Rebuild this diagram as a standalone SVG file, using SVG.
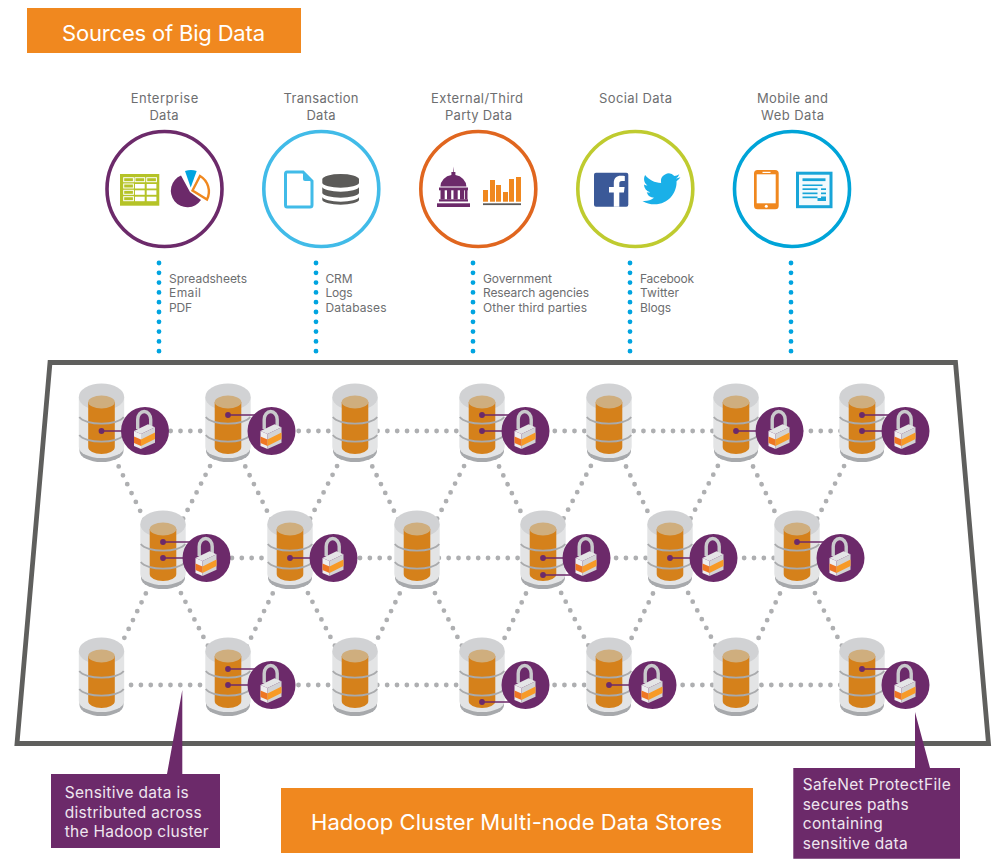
<svg xmlns="http://www.w3.org/2000/svg" width="998" height="859" viewBox="0 0 998 859">
<style>
text{font-family:"Inter","Open Sans","Liberation Sans",sans-serif}
.lbl{font-size:13px;fill:#6d6e70}
.lst{font-size:12px;fill:#6d6e70}
.ban{font-size:22px;fill:#fff}
.cal{font-size:15.5px;fill:#efe6ef}
.ring{fill:#fff;stroke-width:3.6}
.grey{fill:none;stroke:#aeafb1;stroke-width:4.8;stroke-linecap:round;stroke-dasharray:0 9.85}
.blue{fill:none;stroke:#00a4e0;stroke-width:4.8;stroke-linecap:round;stroke-dasharray:0 9.8}
.band{fill:none;stroke:#a9aaac;stroke-width:1.8}
.pur{fill:#6c2a6a}
.org{fill:#f0881f}
.wire{stroke:#6c2a6a;stroke-width:1.5}
</style>
<defs>
<g id="db">
<path d="M-22 10V20A22 11 0 0 0 22 20V10Z" fill="#a7a9ac"/>
<path d="M-22.7 -34V16A22.7 11 0 0 0 22.7 16V-34Z" fill="#e3e4e5"/>
<ellipse cx="0" cy="-34" rx="22.7" ry="13.5" fill="#d1d2d4"/>
<path d="M-13.3 -29V16A13.3 7 0 0 0 13.3 16V-29Z" fill="#d5811b"/>
<ellipse cx="0" cy="-29" rx="13.3" ry="6.4" fill="#cfae7e"/>
<path class="band" d="M-22.2 -14A23 9 0 0 0 22.2 -14"/>
<path class="band" d="M-22.2 4A23 9 0 0 0 22.2 4"/>
</g>
<g id="lock">
<circle cx="43.5" cy="0" r="24" class="pur"/>
<g transform="translate(43.5,0)">
<path d="M-7.3 -2V-11.5A6.5 8 0 0 1 5.7 -11.5V-4" fill="none" stroke="#c9cacc" stroke-width="3.4"/>
<path d="M-11 0L-4 3L10 -3.7L3 -6.7Z" fill="#e4e5e6"/>
<path d="M-11 0L-4 3V18L-11 15Z" fill="#eeeeef"/>
<path d="M-4 3L10 -3.7V11.7L-4 18Z" fill="#d2d3d5"/>
<path d="M-11 5.500L-4 8.500V15L-11 12Z" fill="#ee7623"/>
<path d="M-4 8.500L10 1.500V8L-4 15Z" fill="#f79a26"/>
</g>
</g>
<g id="pT"><line x1="0" y1="-16" x2="28" y2="-16" class="wire"/><circle cx="0" cy="-16" r="2.9" class="pur"/></g>
<g id="pM"><line x1="0" y1="0" x2="28" y2="0" class="wire"/><circle cx="0" cy="0" r="2.9" class="pur"/></g>
<g id="pL"><line x1="0" y1="17" x2="28" y2="17" class="wire"/><circle cx="0" cy="17" r="2.9" class="pur"/></g>
</defs>

<g id="banner-sources">
<rect x="27" y="8" width="274" height="45" class="org"/>
<text x="62" y="41" class="ban" textLength="203">Sources of Big Data</text>
</g>

<g id="connectors">
<path class="blue" d="M159 263V352"/>
<path class="blue" d="M316 263V352"/>
<path class="blue" d="M473 263V352"/>
<path class="blue" d="M630 263V352"/>
<path class="blue" d="M791 263V352"/>
<path class="grey" d="M101.7 431H862"/>
<path class="grey" d="M163 558H797"/>
<path class="grey" d="M101.5 685H862"/>
<path class="grey" d="M101.5 431L163 558"/>
<path class="grey" d="M228 431L163 558"/>
<path class="grey" d="M228 431L290 558"/>
<path class="grey" d="M355 431L290 558"/>
<path class="grey" d="M355 431L417 558"/>
<path class="grey" d="M482 431L417 558"/>
<path class="grey" d="M482 431L543 558"/>
<path class="grey" d="M609 431L543 558"/>
<path class="grey" d="M609 431L670 558"/>
<path class="grey" d="M736 431L670 558"/>
<path class="grey" d="M736 431L797 558"/>
<path class="grey" d="M862 431L797 558"/>
<path class="grey" d="M163 558L101.5 685"/>
<path class="grey" d="M163 558L228 685"/>
<path class="grey" d="M290 558L228 685"/>
<path class="grey" d="M290 558L355 685"/>
<path class="grey" d="M417 558L355 685"/>
<path class="grey" d="M417 558L482 685"/>
<path class="grey" d="M543 558L482 685"/>
<path class="grey" d="M543 558L609 685"/>
<path class="grey" d="M670 558L609 685"/>
<path class="grey" d="M670 558L736 685"/>
<path class="grey" d="M797 558L736 685"/>
<path class="grey" d="M797 558L862 685"/>
</g>

<g id="source-enterprise">
<text x="130.7" y="103" class="lbl" textLength="67.6">Enterprise</text>
<text x="149.5" y="120" class="lbl" textLength="29">Data</text>
<circle cx="164.5" cy="189" r="57.5" class="ring" stroke="#6c2a6a"/>
<rect x="120" y="174" width="39.3" height="31.7" fill="#b5c327"/>
<g fill="#fff">
<rect x="135" y="184" width="9.7" height="4.5"/><rect x="146.7" y="184" width="9.7" height="4.5"/>
<rect x="135" y="190.3" width="9.7" height="4.5"/><rect x="146.7" y="190.3" width="9.7" height="4.5"/>
<rect x="135" y="196.7" width="9.7" height="4.5"/><rect x="146.7" y="196.7" width="9.7" height="4.5"/>
</g>
<g fill="none" stroke="#fff" stroke-width="1">
<rect x="123.7" y="177.7" width="9.7" height="4"/><rect x="135" y="177.7" width="9.7" height="4"/><rect x="146.7" y="177.7" width="9.7" height="4"/>
<rect x="123.7" y="184" width="9.7" height="4"/><rect x="123.7" y="190.3" width="9.7" height="4"/><rect x="123.7" y="196.7" width="9.7" height="4"/>
</g>
<path d="M190 192L201 200A16.5 16.5 0 1 1 181 175.5Z" class="pur"/>
<path d="M185 171Q191 169 196.7 171L190.7 187.5Z" fill="#00a4e0"/>
<path d="M192.5 190.5L200 176A18 18 0 0 1 207 199.5Z" fill="#fff" stroke="#f0881f" stroke-width="2.4"/>
<text x="169" y="283" class="lst" textLength="78">Spreadsheets</text>
<text x="169" y="297.3" class="lst" textLength="32">Email</text>
<text x="169" y="312" class="lst" textLength="23">PDF</text>
</g>

<g id="source-transaction">
<text x="283.5" y="103" class="lbl" textLength="75">Transaction</text>
<text x="306.5" y="120" class="lbl" textLength="29">Data</text>
<circle cx="321.3" cy="189" r="57.5" class="ring" stroke="#41bbe8"/>
<path d="M287 172H303L312 181V205Q312 207 310 207H287Q285.500 207 285.500 205V174Q285.500 172 287 172Z" fill="#fff" stroke="#41bbe8" stroke-width="3"/>
<path d="M303 171L313 181H305Q303 181 303 179Z" fill="#41bbe8"/>
<g fill="#5c5b59">
<path d="M322.300 179A18.400 5.500 0 0 1 359 179V183A18.400 5 0 0 1 322.300 183Z"/>
<path d="M322.300 187A18.400 5 0 0 0 359 187V193A18.400 5 0 0 1 322.300 193Z"/>
<path d="M322.300 197A18.400 5 0 0 0 359 197V200A18.400 5 0 0 1 322.300 200Z"/>
</g>
<text x="325.500" y="283" class="lst" textLength="27">CRM</text>
<text x="325.500" y="297.300" class="lst" textLength="27">Logs</text>
<text x="325.500" y="312" class="lst" textLength="61">Databases</text>
</g>

<g id="source-external">
<text x="431" y="103" class="lbl" textLength="92">External/Third</text>
<text x="445" y="120" class="lbl" textLength="67">Party Data</text>
<circle cx="478.300" cy="189" r="57.500" class="ring" stroke="#e0661f"/>
<g class="pur">
<path d="M453.300 166.500l.4 4v1.500h1.700v3a13 12 0 0 1 11 11.500h-26a13 12 0 0 1 11-11.500v-3h1.700v-1.500z"/>
<rect x="439" y="187.500" width="29" height="2.800"/>
<rect x="440.500" y="190" width="4.200" height="9.500"/>
<rect x="447" y="190" width="4.200" height="9.500"/>
<rect x="453.500" y="190" width="4.200" height="9.500"/>
<rect x="460" y="190" width="4.200" height="9.500"/>
<rect x="465" y="190" width="2.500" height="9.500"/>
<rect x="439" y="199.300" width="29" height="2.200"/>
<rect x="437" y="203.300" width="33" height="3.700"/>
</g>
<g class="org">
<rect x="483" y="190" width="5" height="11.700"/>
<rect x="490" y="180" width="5" height="21.700"/>
<rect x="496" y="185" width="5" height="16.700"/>
<rect x="503" y="192" width="5" height="9.700"/>
<rect x="509" y="179" width="5" height="22.700"/>
<rect x="516" y="177" width="5" height="24.700"/>
</g>
<rect x="483" y="203.300" width="38" height="1.800" fill="#5c5b59"/>
<text x="483" y="283" class="lst" textLength="69">Government</text>
<text x="483" y="297.300" class="lst" textLength="106">Research agencies</text>
<text x="483" y="312" class="lst" textLength="104">Other third parties</text>
</g>

<g id="source-social">
<text x="599" y="103" class="lbl" textLength="73">Social Data</text>
<circle cx="635.300" cy="189" r="57.500" class="ring" stroke="#bfcb2f"/>
<rect x="594" y="172.700" width="34.300" height="34" rx="2" fill="#3b5998"/>
<path d="M613.800 206.700V192.500h-4.800V187h4.800v-4c0-4.800 2.900-7.200 7-7.200 1.900 0 3.500.1 4 .2v4.900h-2.800c-2.200 0-2.700 1-2.700 2.600V187h5.300l-.7 5.500h-4.600v14.200z" fill="#fff"/>
<path transform="translate(642.500,170) scale(1.580)" fill="#1ab0e8" d="M23.953 4.570a10 10 0 01-2.825.775 4.958 4.958 0 002.163-2.723c-.951.555-2.005.959-3.127 1.184a4.920 4.920 0 00-8.384 4.482C7.690 8.095 4.067 6.130 1.640 3.162a4.822 4.822 0 00-.666 2.475c0 1.710.870 3.213 2.188 4.096a4.904 4.904 0 01-2.228-.616v.060a4.923 4.923 0 003.946 4.827 4.996 4.996 0 01-2.212.085 4.936 4.936 0 004.604 3.417 9.867 9.867 0 01-6.102 2.105c-.390 0-.779-.023-1.170-.067a13.995 13.995 0 007.557 2.209c9.053 0 13.998-7.496 13.998-13.985 0-.210 0-.420-.015-.630A9.935 9.935 0 0024 4.590z"/>
<text x="640" y="283" class="lst" textLength="54">Facebook</text>
<text x="640" y="297.300" class="lst" textLength="39">Twitter</text>
<text x="640" y="312" class="lst" textLength="31">Blogs</text>
</g>

<g id="source-mobile">
<text x="757" y="103" class="lbl" textLength="71">Mobile and</text>
<text x="761" y="120" class="lbl" textLength="63">Web Data</text>
<circle cx="792" cy="189" r="57.500" class="ring" stroke="#00a4d8"/>
<rect x="754" y="170" width="24.700" height="39.300" rx="3.500" class="org"/>
<rect x="756.700" y="174.300" width="19" height="29" fill="#fff"/>
<rect x="762.500" y="171.800" width="8" height="1.200" fill="#fff"/>
<circle cx="766.300" cy="206.200" r="1.500" fill="#fff"/>
<rect x="797.500" y="173.200" width="33.500" height="33.500" fill="#f2fafd" stroke="#18a5d8" stroke-width="3"/>
<g fill="#18a5d8">
<rect x="802.500" y="178.300" width="23" height="2.800"/>
<rect x="802.500" y="184.500" width="20" height="1.500"/>
<rect x="802.500" y="188.300" width="15" height="1.700"/><rect x="821" y="188.300" width="5" height="1.700"/>
<rect x="802.500" y="192.500" width="15" height="1.700"/><rect x="821" y="192.500" width="5" height="1.700"/>
<rect x="802.500" y="196.500" width="15" height="1.700"/><rect x="821" y="196.500" width="5" height="1.700"/>
<rect x="817.500" y="198" width="8.500" height="3"/>
</g>
</g>

<g id="cluster-frame">
<path d="M50 362.500H955.500L988.500 743.500H17Z" fill="none" stroke="#5f5f5d" stroke-width="4.800"/>
</g>

<g id="n1-1" transform="translate(101.500,431)"><use href="#db"/><use href="#pM"/><use href="#lock"/></g>
<g id="n1-2" transform="translate(228,431)"><use href="#db"/><use href="#pT"/><use href="#lock"/></g>
<g id="n1-3" transform="translate(355,431)"><use href="#db"/></g>
<g id="n1-4" transform="translate(482,431)"><use href="#db"/><use href="#pT"/><use href="#pM"/><use href="#lock"/></g>
<g id="n1-5" transform="translate(609,431)"><use href="#db"/></g>
<g id="n1-6" transform="translate(736,431)"><use href="#db"/><use href="#pM"/><use href="#lock"/></g>
<g id="n1-7" transform="translate(862,431)"><use href="#db"/><use href="#pT"/><use href="#pM"/><use href="#lock"/></g>
<g id="n2-1" transform="translate(163,558)"><use href="#db"/><use href="#pT"/><use href="#pM"/><use href="#lock"/></g>
<g id="n2-2" transform="translate(290,558)"><use href="#db"/><use href="#pM"/><use href="#lock"/></g>
<g id="n2-3" transform="translate(417,558)"><use href="#db"/></g>
<g id="n2-4" transform="translate(543,558)"><use href="#db"/><use href="#pM"/><use href="#pL"/><use href="#lock"/></g>
<g id="n2-5" transform="translate(670,558)"><use href="#db"/><use href="#pM"/><use href="#lock"/></g>
<g id="n2-6" transform="translate(797,558)"><use href="#db"/><use href="#pT"/><use href="#lock"/></g>
<g id="n3-1" transform="translate(101.500,685)"><use href="#db"/></g>
<g id="n3-2" transform="translate(228,685)"><use href="#db"/><use href="#pT"/><use href="#pM"/><use href="#lock"/></g>
<g id="n3-3" transform="translate(355,685)"><use href="#db"/></g>
<g id="n3-4" transform="translate(482,685)"><use href="#db"/><use href="#pL"/><use href="#lock"/></g>
<g id="n3-5" transform="translate(609,685)"><use href="#db"/><use href="#pM"/><use href="#lock"/></g>
<g id="n3-6" transform="translate(736,685)"><use href="#db"/></g>
<g id="n3-7" transform="translate(862,685)"><use href="#db"/><use href="#pT"/><use href="#lock"/></g>

<g id="callout-sensitive">
<path d="M51 774H167L182.300 690V774H220V848H51Z" class="pur"/>
<text x="64.700" y="798" class="cal" textLength="124">Sensitive data is</text>
<text x="64.700" y="817.700" class="cal" textLength="137">distributed across</text>
<text x="64.700" y="836.700" class="cal" textLength="144">the Hadoop cluster</text>
</g>
<g id="callout-safenet">
<path d="M793.300 768H915V712L930 768H960V858.700H793.300Z" class="pur"/>
<text x="802.700" y="790" class="cal" textLength="148">SafeNet ProtectFile</text>
<text x="802.700" y="810" class="cal" textLength="106">secures paths</text>
<text x="802.700" y="829.300" class="cal" textLength="80">containing</text>
<text x="802.700" y="848.700" class="cal" textLength="105">sensitive data</text>
</g>
<g id="banner-hadoop">
<rect x="281" y="788" width="472" height="65" class="org"/>
<text x="311" y="830" class="ban" textLength="411">Hadoop Cluster Multi-node Data Stores</text>
</g>
</svg>
